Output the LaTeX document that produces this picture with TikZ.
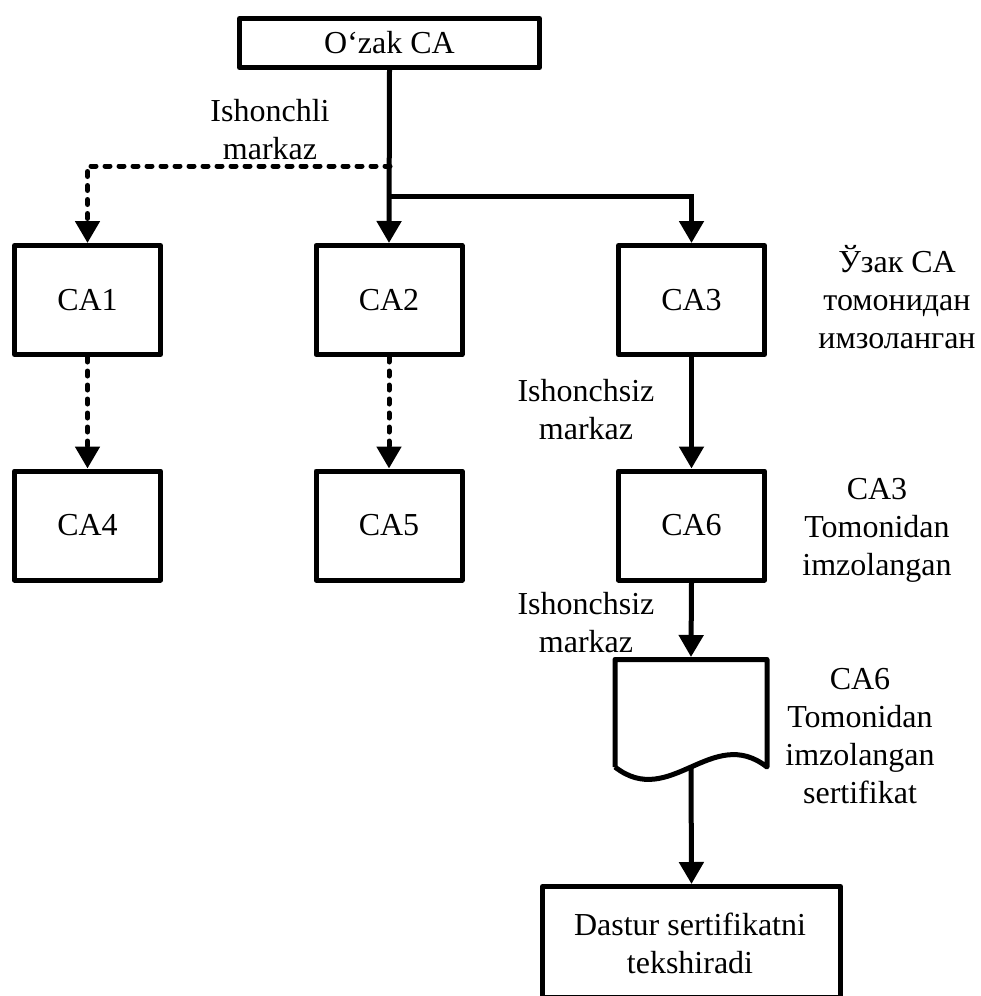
\documentclass[tikz,border=0pt]{standalone}
\usepackage{fontspec}
\setmainfont{Liberation Serif}
\usetikzlibrary{arrows.meta}
\begin{document}
\begin{tikzpicture}[x=1pt,y=-1pt,
  every node/.style={font=\fontsize{32}{38}\selectfont},
  box/.style={draw,line width=5pt,line join=round,inner sep=0pt,minimum width=146pt,minimum height=109pt},
  lbl/.style={align=center,anchor=base,inner sep=0pt},
  conn/.style={line width=5pt,-{Triangle[width=24pt,length=22pt]}},
  dconn/.style={conn,dash pattern=on 5pt off 9pt,line cap=round}]
\useasboundingbox (0,0) rectangle (981,996);
\clip (0,0) rectangle (981,996);
% boxes
\node[box,minimum width=300pt,minimum height=49pt] (root) at (389.5,43) {O‘zak CA};
\node[box] (ca1) at (87.5,300) {CA1};
\node[box] (ca2) at (389,300) {CA2};
\node[box] (ca3) at (691.5,300) {CA3};
\node[box] (ca4) at (87.5,525.5) {CA4};
\node[box] (ca5) at (389,525.5) {CA5};
\node[box] (ca6) at (691.5,525.5) {CA6};
\node[box,minimum width=298pt,minimum height=111pt,anchor=north] (fin) at (691.5,884) {};
\node[lbl] (fintxt) at (690,973) {Dastur sertifikatni\\tekshiradi};
% document shape
\coordinate (doctop) at (691,657);
\coordinate (docbot) at (691,766);
\draw[line width=5pt,line join=round] (615,767) -- (615,659.5) -- (767,659.5) -- (767,767)
  .. controls (712,724) and (670,810) .. (615,767);
% junctions
\coordinate (j1) at (390,166);
\coordinate (j2) at (390,196);
% connectors
\draw[conn] (root.south) -- (ca2.north);
\draw[dconn] (j1) -| (ca1.north);
\draw[conn] (j2) -| (ca3.north);
\draw[dconn] (ca1.south) -- (ca4.north);
\draw[dconn] (ca2.south) -- (ca5.north);
\draw[conn] (ca3.south) -- (ca6.north);
\draw[conn] (ca6.south) -- (doctop);
\draw[conn] (docbot) -- (fin.north);
% labels
\node[lbl] (l1) at (270,159) {Ishonchli\\markaz};
\node[lbl] (l2) at (897,348) {Ўзак CA\\томонидан\\имзоланган};
\node[lbl] (l3) at (586,439) {Ishonchsiz\\markaz};
\node[lbl] (l4) at (877,575) {CA3\\Tomonidan\\imzolangan};
\node[lbl] (l5) at (586,652) {Ishonchsiz\\markaz};
\node[lbl] (l6) at (860,803) {CA6\\Tomonidan\\imzolangan\\sertifikat};
\end{tikzpicture}
\end{document}
